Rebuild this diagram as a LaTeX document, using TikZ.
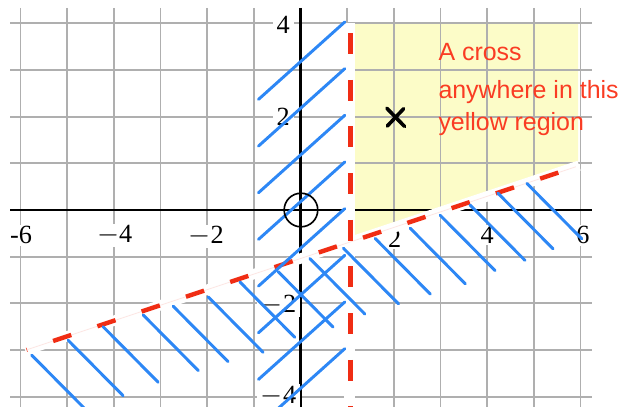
\documentclass[tikz,border=0pt]{standalone}
\usepackage{fontspec}
\newfontfamily\handfont{Liberation Sans}
\newfontfamily\tickfont{Liberation Serif}
\definecolor{gridgray}{RGB}{175,175,175}
\definecolor{hatchblue}{RGB}{45,135,245}
\definecolor{dashred}{RGB}{240,45,20}
\definecolor{textred}{RGB}{250,60,35}
\definecolor{paleyellow}{RGB}{252,252,200}
\begin{document}
\begin{tikzpicture}[x=1cm,y=1cm,
  gridline/.style={gridgray,line width=1.1pt},
  axisline/.style={black,line width=1.4pt},
  ticklab/.style={fill=white,inner xsep=2.5pt,inner ysep=1pt,font=\tickfont\fontsize{16}{16}\selectfont},
  hatch/.style={hatchblue,line width=1.8pt,line cap=round},
  reddash/.style={dashred,line width=2.7pt},
  whiteband/.style={white,line width=0.22cm},
  crossline/.style={black,line width=2.2pt,line cap=round},
  note/.style={textred,anchor=base west,inner sep=0pt,font=\handfont\fontsize{15.2}{15.2}\selectfont}]
\useasboundingbox (-6.439,-4.2) rectangle (6.846,4.5);
\clip (-6.439,-4.2) rectangle (6.846,4.5);
% yellow feasible region
\fill[paleyellow] (1.17,4.01) -- (5.95,4.01) -- (5.95,1.0) -- (1.17,-0.54) -- cycle;
% grid
\foreach \x in {-6,...,6} \draw[gridline] (\x,4.33) -- (\x,-4.4);
\foreach \y in {-4,...,4} \draw[gridline] (-6.22,\y) -- (6.25,\y);
% axes
\draw[axisline] (-6.22,0) -- (6.25,0);
\draw[axisline] (0,4.33) -- (0,-4.4);
% tick labels
\node[ticklab] (xm6) at (-5.99,-0.54) {-6};
\node[ticklab] (xm4) at (-3.98,-0.54) {$-$4};
\node[ticklab] (xm2) at (-2.02,-0.56) {$-$2};
\node[ticklab] (xp2) at (2.02,-0.62) {2};
\node[ticklab] (xp4) at (4.0,-0.54) {4};
\node[ticklab] (xp6) at (6.05,-0.54) {6};
\node[ticklab] (yp4) at (-0.37,3.96) {4};
\node[ticklab] (yp2) at (-0.37,2.0) {2};
\node[ticklab] (ym2) at (-0.47,-2.04) {$-$2};
\node[ticklab] (ym4) at (-0.47,-3.98) {$-$4};
% white bands behind the boundary lines
\draw[whiteband] (1.05,4.0) -- (1.05,-4.4);
\draw[whiteband] (-5.9,-3.007) -- (5.97,0.95);
% red dashed boundaries
\draw[dashred!12,line width=0.5pt] (-5.87,-2.997) -- (5.9,0.927);
\draw[reddash,dash pattern=on 0.41cm off 0.59cm,dash phase=0.40cm] (-5.87,-2.997) -- (5.9,0.927);
\draw[dashred,line width=3.4pt,dash pattern=on 0.45cm off 0.55cm] (1.07,3.79) -- (1.07,-4.4);
% hatching left of x = 1
\foreach \k in {0,...,7} \draw[hatch] (-0.90,{2.37-\k}) -- ++(1.85,1.66);
% hatching below the slanted line
\foreach \a/\b in {-5.76/-3.11,-4.98/-2.79,-4.23/-2.50,-3.37/-2.25,-2.73/-2.06,-1.98/-1.86,-1.30/-1.54,-0.48/-1.32,0.20/-1.04,0.92/-0.82,1.60/-0.61,2.35/-0.39,2.99/-0.11,3.63/0.11,4.23/0.36,4.85/0.57}
  \draw[hatch] (\a,\b) -- ++(1.18,-1.19);
% origin circle
\node[draw=black,circle,line width=1pt,minimum size=0.72cm,inner sep=0pt] (origin) at (0.01,0) {};
% cross
\coordinate (c1) at (1.85,2.18);
\coordinate (c2) at (2.23,1.79);
\coordinate (c3) at (1.86,1.80);
\coordinate (c4) at (2.21,2.17);
\draw[crossline] (c1) -- (c2);
\draw[crossline] (c3) -- (c4);
% annotation
\node[note] (t1) at (2.95,3.20) {A cross};
\node[note] (t2) at (2.95,2.39) {anywhere in this};
\node[note] (t3) at (2.95,1.71) {yellow region};
\end{tikzpicture}
\end{document}
